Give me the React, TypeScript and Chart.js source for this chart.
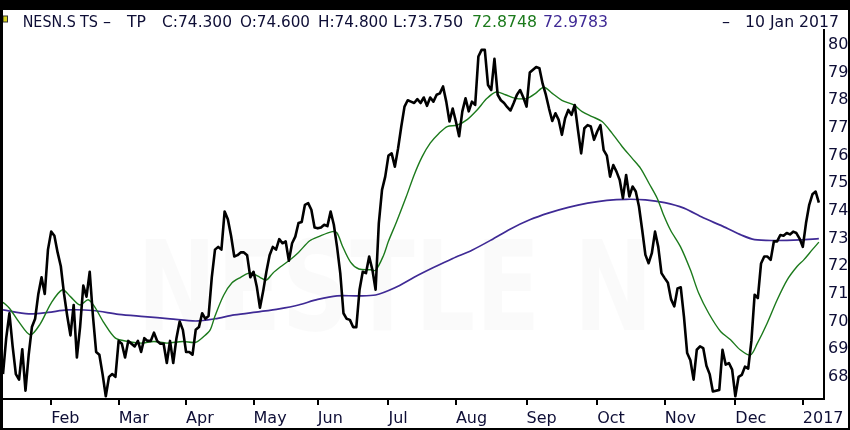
import { useEffect, useRef } from 'react';
import Chart from 'chart.js/auto';

// daily closes, index 0 = 11 Jan 2016 (trading days)
const priceValues = [
  68.1, 69.4, 70.3, 69.1, 68.1, 67.9, 69.0, 67.5, 68.8, 69.8,
  70.1, 71.0, 71.6, 71.0, 72.6, 73.25, 73.1, 72.5, 72.0, 71.0,
  70.2, 69.5, 70.6, 68.7, 69.8, 71.3, 70.9, 71.8, 70.2, 68.9,
  68.8, 68.1, 67.3, 68.0, 68.1, 68.0, 69.3, 69.2, 68.7, 69.3,
  69.2, 69.1, 69.3, 68.9, 69.4, 69.3, 69.3, 69.6, 69.3, 69.2,
  69.2, 68.5, 69.3, 68.5, 69.4, 70.0, 69.7, 68.9, 68.9, 68.8,
  69.7, 69.8, 70.3, 70.1, 70.2, 71.6, 72.6, 72.7, 72.6, 73.98,
  73.7, 73.1, 72.35, 72.4, 72.5, 72.5, 72.4, 71.6, 71.8, 71.27,
  70.5, 71.1, 71.8, 72.4, 72.7, 72.6, 72.98, 72.83, 72.9, 72.2,
  72.83, 73.07, 73.56, 73.6, 74.22, 74.28, 74.04, 73.4, 73.37, 73.4,
  73.5, 73.45, 73.98, 73.5, 72.7, 71.75, 70.3, 70.1, 70.06, 69.8,
  69.8, 71.15, 71.8, 71.75, 72.35, 71.87, 71.15, 73.55, 74.76, 75.24,
  76.0, 76.08, 75.6, 76.26, 77.05, 77.77, 78.0, 77.95, 77.9, 78.04,
  77.9, 78.1, 77.8, 78.1, 77.95, 78.2, 78.25, 78.5, 77.95, 77.23,
  77.7, 77.23, 76.7, 77.6, 78.07, 77.6, 77.95, 77.83, 79.58, 79.82,
  79.82, 78.55, 78.37, 79.5, 78.2, 78.0, 77.9, 77.75, 77.63, 77.9,
  78.2, 78.37, 78.1, 77.77, 79.0, 79.1, 79.2, 79.16, 78.6, 78.2,
  77.7, 77.25, 77.53, 77.29, 76.75, 77.35, 77.65, 77.47, 77.83, 76.93,
  76.08, 76.99, 77.1, 77.05, 76.57, 76.87, 77.1, 76.2, 76.0, 75.24,
  75.66, 75.42, 75.12, 74.46, 75.3, 74.52, 74.88, 74.7, 74.16, 73.31,
  72.41, 72.11, 72.47, 73.25, 72.7, 71.75, 71.57, 71.4, 70.8, 70.55,
  71.2, 71.24, 70.18, 68.86, 68.6, 67.9, 68.98, 69.1, 69.04, 68.4,
  68.1, 67.47, 67.5, 67.53, 68.98, 68.44, 68.5, 68.26, 67.3, 68.0,
  68.07, 68.37, 68.3, 69.3, 70.97, 70.85, 72.1, 72.35, 72.35, 72.23,
  72.9, 72.9, 73.13, 73.1, 73.2, 73.15, 73.25, 73.2, 73.0, 72.7,
  73.56, 74.22, 74.6, 74.7, 74.3,
];

// short moving average (green), read at these trading-day positions
const greenDays = [
  0, 2, 5, 8.5, 11.5, 15, 18.5, 21, 24, 26.5, 28.5, 31.5, 35, 39, 43, 47, 51, 56, 60,
  62.5, 64.5, 66, 68.7, 71.3, 74, 76.5, 78, 80, 82, 84, 86.4, 89, 92, 95.5, 98.3,
  102.5, 104, 105.6, 108.2, 110.8, 114.4, 116, 118.5, 120, 122.5, 125.5, 128, 130.5,
  133, 135.7, 138.3, 141.4, 144.5, 147.6, 150.7, 153.5, 156.4, 159.5, 163.2, 165.8,
  168.4, 171, 174, 177.7, 180.3, 183.4, 186.5, 189.6, 192.8, 195.9, 198.5, 201.1,
  203.7, 205.5, 207.8, 210.9, 214, 216.6, 219.7, 223.4, 226.5, 229.6, 232.7, 234.8,
  237.9, 241, 244.1, 247.2, 249.3, 251.9, 254,
];
const greenValues = [
  70.7, 70.48, 69.98, 69.52, 69.9, 70.67, 71.15, 70.9, 70.6, 70.79, 70.54, 69.94, 69.4,
  69.28, 69.22, 69.28, 69.22, 69.28, 69.25, 69.46, 69.7, 70.2, 70.95, 71.4, 71.6, 71.75,
  71.72, 71.6, 71.5, 71.75, 71.98, 72.2, 72.5, 72.92, 73.07, 73.25, 73.2, 72.75, 72.15,
  71.9, 71.87, 71.85, 72.4, 72.9, 73.6, 74.5, 75.3, 75.96, 76.45, 76.8, 77.05, 77.1,
  77.3, 77.65, 78.07, 78.3, 78.2, 78.07, 78.07, 78.25, 78.47, 78.25, 78.0, 77.83, 77.59,
  77.41, 77.23, 76.81, 76.32, 75.9, 75.54, 75.0, 74.45, 73.9, 73.31, 72.71, 71.87, 71.02,
  70.3, 69.64, 69.34, 68.97, 68.79, 69.2, 69.94, 70.78, 71.5, 71.99, 72.23, 72.59, 72.87,
];

// long moving average (purple)
const purpleDays = [
  0, 8, 14, 20, 28, 36, 44, 52, 60, 66, 72, 80, 86, 92, 98, 104, 110, 116, 122, 128,
  134, 140, 146, 152, 158, 164, 170, 176, 182, 188, 194, 200, 206, 212, 218, 224, 230,
  234, 240, 248, 254,
];
const purpleValues = [
  70.42, 70.28, 70.33, 70.42, 70.4, 70.26, 70.18, 70.1, 70.02, 70.1, 70.24, 70.36, 70.46,
  70.6, 70.8, 70.93, 70.93, 70.96, 71.22, 71.6, 71.95, 72.28, 72.58, 72.95, 73.35, 73.68,
  73.93, 74.13, 74.28, 74.38, 74.42, 74.4, 74.3, 74.1, 73.75, 73.45, 73.12, 72.96, 72.93,
  72.95, 73.0,
];

const monthTickDays = [15, 36, 57, 78, 98, 120, 141, 163, 185, 206, 228, 249];
const monthLabels = ['Feb', 'Mar', 'Apr', 'May', 'Jun', 'Jul', 'Aug', 'Sep', 'Oct', 'Nov', 'Dec', '2017'];
const yTickValues = [68, 69, 70, 71, 72, 73, 74, 75, 76, 77, 78, 79, 80];

const quoteParts = ['NESN.S', 'TS', '–', 'TP', 'C:74.300', 'O:74.600', 'H:74.800', 'L:73.750'];
const maLastValues = ['72.8748', '72.9783'];
const quoteDate = '10 Jan 2017';
const watermarkText = 'NESTLE N';

const NAVY = '#0e0e36';
const GREEN = '#1c7a1c';
const PURPLE = '#3f2a95';
const FONT = '"DejaVu Sans", Verdana, sans-serif';

// header layout (left edge and widest width of each piece)
const quotePartX = [22.7, 80, 103, 127, 162, 240, 318, 393];
const quotePartW = [53, 18, 9, 19, 70, 70, 70, 71];
const maTextX = [472, 543];
const maTextW = 65;

const headerPlugin = {
  id: 'quoteHeader',
  beforeDatasetsDraw(chart: any) {
    const ctx = chart.ctx as CanvasRenderingContext2D;
    ctx.save();
    ctx.font = `bold 124px ${FONT}`;
    const w = ctx.measureText(watermarkText).width;
    ctx.translate(137, 330);
    ctx.scale(516 / w, 1);
    ctx.fillStyle = 'rgba(0,0,0,0.018)';
    ctx.fillText(watermarkText, 0, 0);
    ctx.restore();
  },
  afterDraw(chart: any) {
    const ctx = chart.ctx as CanvasRenderingContext2D;
    ctx.save();
    // little legend box
    ctx.fillStyle = '#d6d21a';
    ctx.fillRect(3, 16, 4.5, 6);
    ctx.strokeStyle = '#333';
    ctx.lineWidth = 1;
    ctx.strokeRect(3, 16, 4.5, 6);

    ctx.font = `16px ${FONT}`;
    ctx.textBaseline = 'alphabetic';
    ctx.textAlign = 'left';
    ctx.fillStyle = NAVY;
    quoteParts.forEach((t, i) => ctx.fillText(t, quotePartX[i], 26.5, quotePartW[i]));
    ctx.fillStyle = GREEN;
    ctx.fillText(maLastValues[0], maTextX[0], 26.5, maTextW);
    ctx.fillStyle = PURPLE;
    ctx.fillText(maLastValues[1], maTextX[1], 26.5, maTextW);
    ctx.fillStyle = NAVY;
    ctx.fillText('–', 722, 26.5);
    ctx.textAlign = 'right';
    ctx.fillText(quoteDate, 839, 26.5, 94);
    ctx.restore();
  },
};

const App = () => {
  const canvasRef = useRef<HTMLCanvasElement | null>(null);
  const chartRef = useRef<Chart | null>(null);

  useEffect(() => {
    if (!canvasRef.current) return;
    if (chartRef.current) chartRef.current.destroy();

    const tickFont = { family: FONT, size: 16 };

    chartRef.current = new Chart(canvasRef.current, {
      type: 'line',
      data: {
        datasets: [
          {
            label: 'NESN.S',
            data: priceValues.map((v, i) => ({ x: i, y: v })),
            borderColor: '#000',
            borderWidth: 2.6,
            pointRadius: 0,
            tension: 0,
            borderJoinStyle: 'round',
          },
          {
            label: 'MA short',
            data: greenDays.map((d, i) => ({ x: d, y: greenValues[i] })),
            borderColor: GREEN,
            borderWidth: 1.4,
            pointRadius: 0,
            tension: 0.3,
          },
          {
            label: 'MA long',
            data: purpleDays.map((d, i) => ({ x: d, y: purpleValues[i] })),
            borderColor: PURPLE,
            borderWidth: 1.7,
            pointRadius: 0,
            tension: 0.3,
          },
        ],
      },
      options: {
        animation: false,
        responsive: false,
        maintainAspectRatio: false,
        layout: { padding: { left: 3, top: 30, right: 0, bottom: 2 } },
        plugins: {
          legend: { display: false },
          tooltip: { enabled: false },
        },
        scales: {
          x: {
            type: 'linear',
            min: 0,
            max: 255.6,
            afterBuildTicks: (scale: any) => {
              scale.ticks = monthTickDays.map((v) => ({ value: v }));
            },
            afterFit: (scale: any) => {
              scale.height = 29;
            },
            grid: {
              drawOnChartArea: false,
              drawTicks: true,
              tickLength: 6,
              color: '#000',
              lineWidth: 2,
            },
            border: { display: true, color: '#000', width: 2 },
            ticks: {
              autoSkip: false,
              maxRotation: 0,
              align: 'start',
              padding: 4,
              color: NAVY,
              font: tickFont,
              callback: (_v: any, index: number) => monthLabels[index],
            },
          },
          y: {
            type: 'linear',
            position: 'right',
            min: 67.2,
            max: 80.54,
            afterBuildTicks: (scale: any) => {
              scale.ticks = yTickValues.map((v) => ({ value: v }));
            },
            afterFit: (scale: any) => {
              scale.width = 26;
            },
            grid: { drawOnChartArea: false, drawTicks: false },
            border: { display: true, color: '#000', width: 2 },
            ticks: {
              padding: 4,
              color: NAVY,
              font: tickFont,
              callback: (v: any) => String(v),
            },
          },
        },
      },
      plugins: [headerPlugin],
    } as any);

    return () => {
      if (chartRef.current) {
        chartRef.current.destroy();
        chartRef.current = null;
      }
    };
  }, []);

  return (
    <div style={{ position: 'fixed', left: 0, top: 0, width: 850, height: 430, background: '#fff' }}>
      <canvas ref={canvasRef} width={850} height={430} style={{ position: 'absolute', left: 0, top: 0 }} />
      <div
        style={{
          position: 'absolute',
          inset: 0,
          boxSizing: 'border-box',
          borderStyle: 'solid',
          borderColor: '#000',
          borderWidth: '10px 2px 2px 3px',
          pointerEvents: 'none',
        }}
      />
    </div>
  );
};

export default App;
